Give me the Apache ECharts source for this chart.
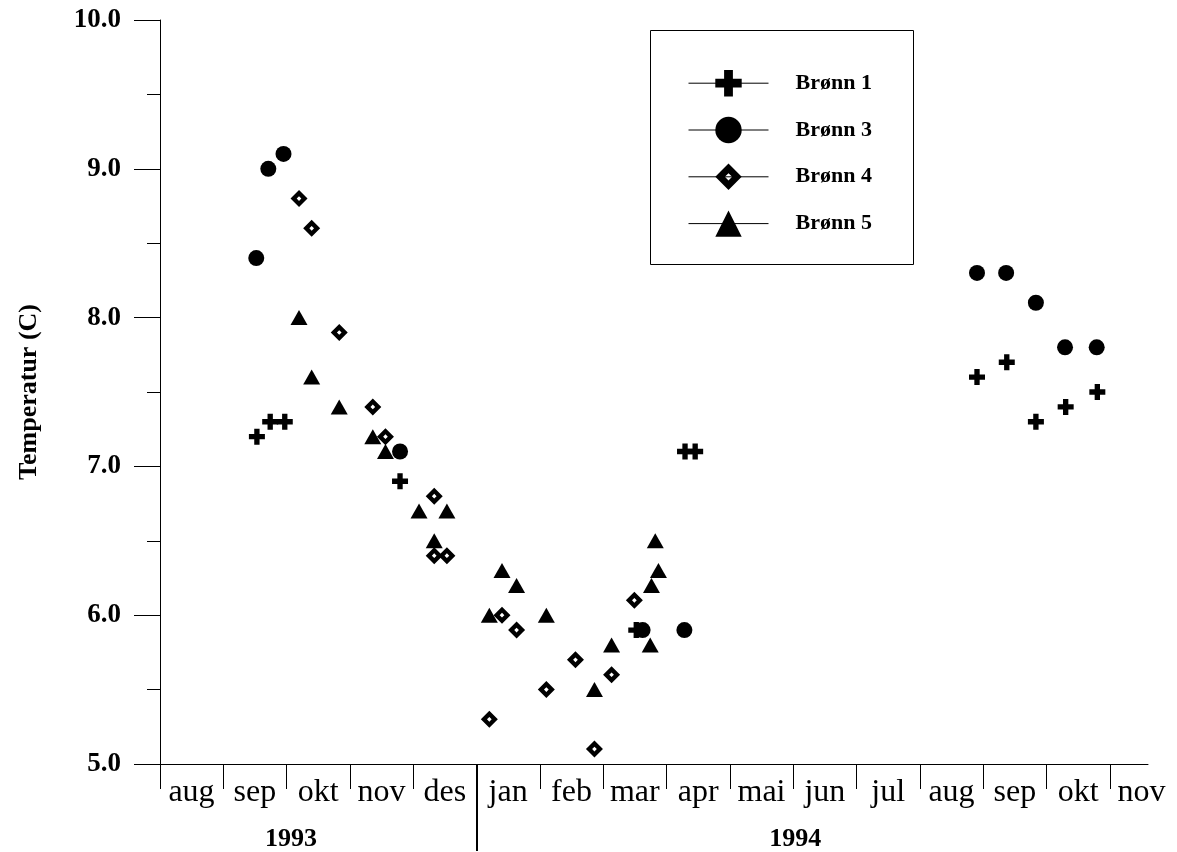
<!DOCTYPE html>
<html>
<head>
<meta charset="utf-8">
<script src="https://cdn.jsdelivr.net/npm/echarts@6/dist/echarts.min.js"></script>
<style>html,body{margin:0;padding:0;background:#fff}#c{width:1177px;height:852px}</style>
</head>
<body>
<div id="c"></div>
<script>
// x = months since start of Aug 1993
const months = ['aug','sep','okt','nov','des','jan','feb','mar','apr','mai','jun','jul','aug','sep','okt','nov'];
const monthTicks = [0,1,2,3,4,5,6,7,8,9,10,11,12,13,14,15];
const years = ['1993','1994'];
const yearPos = [2.07, 10.03];
const yearBreak = [5];

const b1x = [1.53, 1.74, 1.97, 3.79, 7.52, 8.29, 8.45, 12.90, 13.37, 13.83, 14.30, 14.80];
const b1y = [7.2, 7.3, 7.3, 6.9, 5.9, 7.1, 7.1, 7.6, 7.7, 7.3, 7.4, 7.5];

const b3x = [1.52, 1.71, 1.95, 3.79, 7.62, 8.28, 12.90, 13.36, 13.83, 14.29, 14.79];
const b3y = [8.4, 9.0, 9.1, 7.1, 5.9, 5.9, 8.3, 8.3, 8.1, 7.8, 7.8];

const b4x = [2.195, 2.395, 2.83, 3.36, 3.56, 4.33, 4.33, 4.53, 5.20, 5.40, 5.63, 6.10, 6.56, 6.86, 7.13, 7.49];
const b4y = [8.8, 8.6, 7.9, 7.4, 7.2, 6.8, 6.4, 6.4, 5.3, 6.0, 5.9, 5.5, 5.7, 5.1, 5.6, 6.1];

const b5x = [2.195, 2.395, 2.83, 3.36, 3.56, 4.09, 4.33, 4.53, 5.20, 5.40, 5.63, 6.10, 6.86, 7.13, 7.74, 7.76, 7.87, 7.82];
const b5y = [8.0, 7.6, 7.4, 7.2, 7.1, 6.7, 6.5, 6.7, 6.0, 6.3, 6.2, 6.0, 5.5, 5.8, 5.8, 6.2, 6.3, 6.5];

const names = ['Brønn 1', 'Brønn 3', 'Brønn 4', 'Brønn 5'];

const crossPath = 'path://M-1.5,-4.5 L1.5,-4.5 L1.5,-1.5 L4.5,-1.5 L4.5,1.5 L1.5,1.5 L1.5,4.5 L-1.5,4.5 L-1.5,1.5 L-4.5,1.5 L-4.5,-1.5 L-1.5,-1.5 Z';
const diamondPath = 'path://M0,-8 L8,0 L0,8 L-8,0 Z M0,-2.2 L-2.2,0 L0,2.2 L2.2,0 Z';

function zip(xs, ys) { return xs.map((x, i) => [x, ys[i]]); }

const serif = 'Liberation Serif, Times New Roman, serif';

function mk(name, xs, ys, symbol, size) {
  return {
    name: name, type: 'line', data: zip(xs, ys),
    symbol: symbol, symbolSize: size, symbolKeepAspect: true,
    itemStyle: { color: '#000' },
    lineStyle: { opacity: 0, width: 0 },
    emphasis: { disabled: true },
    animation: false, silent: true
  };
}

const chart = echarts.init(document.getElementById('c'));
chart.setOption({
  animation: false,
  backgroundColor: '#fff',
  grid: { left: 160, right: 29, top: 20, bottom: 87 },
  xAxis: [{
    type: 'value', min: 0, max: 15.6,
    axisLine: { show: true, lineStyle: { color: '#000', width: 1 } },
    axisTick: { show: true, customValues: monthTicks, length: 25, lineStyle: { color: '#000', width: 1 } },
    axisLabel: {
      customValues: monthTicks,
      formatter: v => months[Math.round(v)] || '',
      fontFamily: serif, fontSize: 32, color: '#000',
      margin: 13, align: 'center', padding: [0, 0, 0, 63]
    },
    splitLine: { show: false }
  }, {
    type: 'value', min: 0, max: 15.6, position: 'bottom',
    axisLine: { show: false },
    axisTick: { show: true, customValues: yearBreak, length: 87, lineStyle: { color: '#000', width: 2 } },
    axisLabel: {
      customValues: yearPos,
      formatter: v => (v < yearBreak[0] ? years[0] : years[1]),
      fontFamily: serif, fontSize: 26, fontWeight: 'bold', color: '#000',
      margin: 62
    },
    splitLine: { show: false }
  }],
  yAxis: {
    type: 'value', min: 5, max: 10, interval: 1,
    name: 'Temperatur (C)', nameLocation: 'middle', nameRotate: 90, nameGap: 118,
    nameTextStyle: { fontFamily: serif, fontSize: 26, fontWeight: 'bold', color: '#000' },
    axisLine: { show: true, lineStyle: { color: '#000', width: 1 } },
    axisTick: { show: true, length: 26, lineStyle: { color: '#000', width: 1 } },
    minorTick: { show: true, splitNumber: 2, length: 13, lineStyle: { color: '#000', width: 1 } },
    axisLabel: {
      formatter: v => v.toFixed(1),
      fontFamily: serif, fontSize: 27, fontWeight: 'bold', color: '#000', margin: 39
    },
    splitLine: { show: false }
  },
  legend: {
    data: names, orient: 'vertical', left: 688, top: 70, padding: 0,
    itemWidth: 80, itemHeight: 33, itemGap: 20.4,
    selectedMode: false,
    lineStyle: { color: '#000', width: 1, opacity: 1 },
    textStyle: { fontFamily: serif, fontSize: 22, fontWeight: 'bold', color: '#000', padding: [0, 0, 0, 22] }
  },
  graphic: [{
    type: 'rect', shape: { x: 650.5, y: 30.5, width: 263, height: 234 },
    style: { fill: 'none', stroke: '#000', lineWidth: 1 }, silent: true
  }],
  series: [
    mk(names[0], b1x, b1y, crossPath, 16),
    mk(names[1], b3x, b3y, 'circle', 16),
    mk(names[2], b4x, b4y, diamondPath, 17),
    mk(names[3], b5x, b5y, 'triangle', [17, 15])
  ]
});
</script>
</body>
</html>
